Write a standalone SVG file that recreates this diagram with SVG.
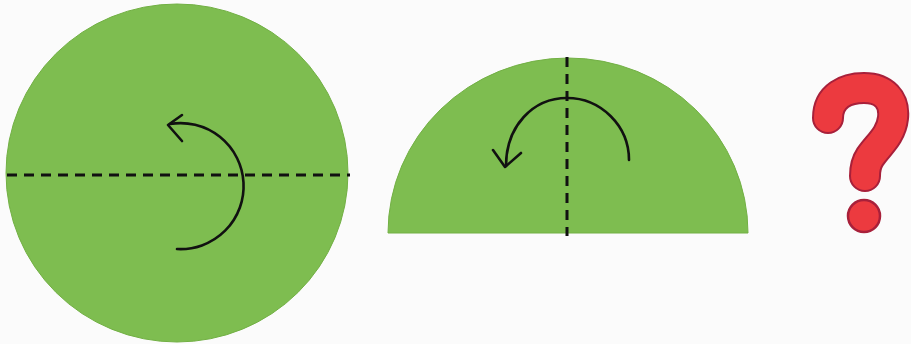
<svg xmlns="http://www.w3.org/2000/svg" width="911" height="344" viewBox="0 0 911 344">
<defs>
<style>
.paper{fill:#7ebd50;stroke:#72b044;stroke-width:1}
.fold{stroke:#111;stroke-width:3;stroke-dasharray:10 7;fill:none}
.arrow{stroke:#111;stroke-width:2.6;fill:none;stroke-linecap:round;stroke-linejoin:round}
</style>
</defs>
<rect width="911" height="344" fill="#fbfbfb"/>
<g id="circle">
<ellipse class="paper" cx="177" cy="173" rx="171" ry="169"/>
<line class="fold" x1="7" y1="175" x2="350" y2="175"/>
<path class="arrow" d="M177 249 A63 63 0 1 0 170 124"/>
<path class="arrow" d="M182 115 L168 125 L182 141"/>
</g>
<g id="half">
<path class="paper" d="M388 233 A180 175 0 0 1 748 233 Z"/>
<line class="fold" x1="567" y1="57" x2="567" y2="236"/>
<path class="arrow" d="M629 160 C629 126 601 98 567 98 C533 98 506 126 506 166"/>
<path class="arrow" d="M493 150 L505 167 L521 153"/>
</g>
<g id="question">
<path d="M828 118 C828 96 846 88 864 88 C884 88 895 100 893 118 C891 136 878 145 870 157 C866 163 865 170 865 176" fill="none" stroke="#a8203a" stroke-width="32" stroke-linecap="round" stroke-linejoin="round"/>
<path d="M828 118 C828 96 846 88 864 88 C884 88 895 100 893 118 C891 136 878 145 870 157 C866 163 865 170 865 176" fill="none" stroke="#ec3a3f" stroke-width="28" stroke-linecap="round" stroke-linejoin="round"/>
<circle cx="864" cy="216" r="16" fill="#ec3a3f" stroke="#a8203a" stroke-width="2.5"/>
</g>
</svg>
